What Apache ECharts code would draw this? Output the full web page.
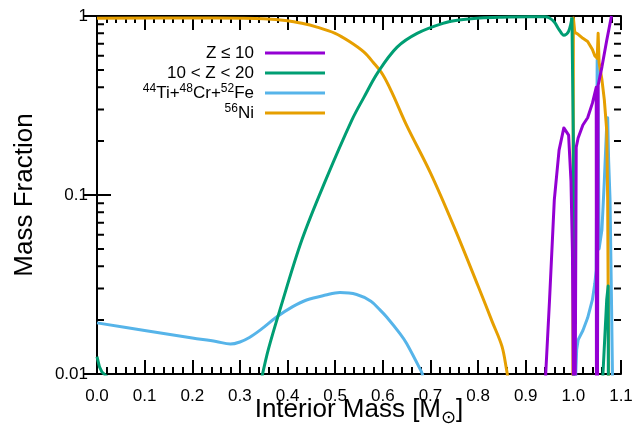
<!DOCTYPE html>
<html lang="en">
<head>
<meta charset="UTF-8">
<title>Mass Fraction</title>
<script src="https://cdn.jsdelivr.net/npm/echarts@6/dist/echarts.min.js"></script>
</head>
<body style="margin:0;background:#fff">
<div id="chart" style="width:644px;height:433px;"></div>
<script>
// BELOW = value under the plotted range (clipped), GAP = break in the line
var BELOW = 1e-4;
var GAP = '-';

var seriesNames = ['Z ≤ 10', '10 < Z < 20', '44Ti+48Cr+52Fe', '56Ni'];

// Z <= 10 (only the spiky outer part is above 0.01)
var purpleX = [0.937, 0.942, 0.95, 0.96, 0.97, 0.98, 0.983, 0.99, 0.995, 0.998, 1.0, 1.001, 1.003, 1.004,
               1.006, 1.01, 1.02, 1.03, 1.04, 1.048, 1.049, 1.051, 1.052, 1.06, 1.07, 1.08];
var purpleY = [BELOW, 0.0101, 0.026, 0.094, 0.178, 0.237, 0.24, 0.216, 0.12, 0.049, 0.0103, BELOW, BELOW, 0.0101,
               0.185, 0.208, 0.246, 0.27, 0.326, 0.40, BELOW, BELOW, 0.41, 0.52, 0.73, 1.0];

// 10 < Z < 20: smooth main curve, then the sharp parts
var greenMainX = [0.3465, 0.36, 0.384, 0.43, 0.48, 0.535, 0.56, 0.59, 0.63, 0.672, 0.726, 0.76, 0.804, 0.85, 0.909,
                  0.94, 0.95, 0.96, 0.97, 0.98, 0.99, 0.997];
var greenMainY = [0.0097, 0.0138, 0.0228, 0.056, 0.121, 0.262, 0.35, 0.486, 0.67, 0.80, 0.91, 0.95, 0.975, 0.985, 0.99,
                  0.99, 0.975, 0.925, 0.84, 0.78, 0.82, 0.98];
var greenEdgeX = [0, 0.005, 0.01, 0.02, 0.03, 0.5, 0.997, 1.0, 1.001, 1.06, 1.062, 1.07, 1.073, 1.075];
var greenEdgeY = [0.0125, 0.011, 0.0103, 0.0097, BELOW, GAP, 0.98, 0.2, BELOW, BELOW, 0.0099, 0.026, 0.031, BELOW];

// 44Ti + 48Cr + 52Fe
var blueMainX = [0, 0.1, 0.2, 0.25, 0.28, 0.3, 0.32, 0.345, 0.377, 0.41, 0.44, 0.48, 0.51, 0.545, 0.575, 0.594, 0.608,
                 0.636, 0.65, 0.681, 0.684];
var blueMainY = [0.0193, 0.0175, 0.0159, 0.0152, 0.0147, 0.0151, 0.016, 0.0178, 0.0208, 0.0237, 0.0259, 0.0276, 0.0285,
                 0.0278, 0.0255, 0.0228, 0.0208, 0.0168, 0.0148, 0.0103, 0.0098];
var blueEdgeX = [1.002, 1.005, 1.007, 1.01, 1.02, 1.03, 1.04, 1.045, 1.048, 1.05, 1.052, 1.054, 1.06, 1.065, 1.07, 1.072,
                 1.074, 1.077, 1.08, 1.082, 1.083];
var blueEdgeY = [BELOW, 0.0101, 0.0137, 0.0155, 0.0175, 0.0206, 0.026, 0.032, 0.038, 0.57, 0.3, 0.05, 0.064, 0.12, 0.246,
                 0.27, 0.157, 0.094, 0.026, 0.0103, BELOW];

// 56Ni
var orangeMainX = [0, 0.2, 0.3, 0.35, 0.4, 0.43, 0.46, 0.5, 0.53, 0.56, 0.58, 0.6, 0.62, 0.65, 0.7, 0.75, 0.8, 0.83,
                   0.85, 0.86, 0.862];
var orangeMainY = [0.97, 0.975, 0.972, 0.965, 0.94, 0.91, 0.87, 0.80, 0.72, 0.63, 0.55, 0.47, 0.37, 0.245, 0.133, 0.066,
                   0.031, 0.0195, 0.0143, 0.0105, 0.0097];
var orangeEdgeX = [0.998, 1.0, 1.003, 1.01, 1.02, 1.03, 1.04, 1.045, 1.05, 1.052, 1.054, 1.06, 1.065, 1.07, 1.072,
                   1.074, 1.075];
var orangeEdgeY = [BELOW, 0.975, 0.81, 0.79, 0.75, 0.72, 0.65, 0.60, 0.58, 0.80, 0.55, 0.44, 0.34, 0.23, 0.094, 0.0099,
                   BELOW];

var colors = ['#9400D3', '#009E73', '#56B4E9', '#E69F00'];

var xMin = 0, xMax = 1.1;
var yMajorTicks = [0.01, 0.1, 1];
var yMinorTicks = [0.02, 0.03, 0.04, 0.05, 0.06, 0.07, 0.08, 0.09, 0.2, 0.3, 0.4, 0.5, 0.6, 0.7, 0.8, 0.9];
var minorTickLen = 0.0147; // in x units, about 7 px

function zip(xs, ys) {
    var out = [];
    for (var i = 0; i < xs.length; i++) out.push([xs[i], ys[i]]);
    return out;
}

// short segments at both frame edges for the minor log ticks
function minorTickData() {
    var out = [];
    yMinorTicks.forEach(function (v) {
        out.push([xMin, v], [xMin + minorTickLen, v], [xMin + minorTickLen, GAP]);
        out.push([xMax - minorTickLen, v], [xMax, v], [xMax, GAP]);
    });
    return out;
}

var FONT = 'Liberation Sans, Arial, sans-serif';
var tickStyle = {color: '#000', width: 2};
var borderLine = {show: true, lineStyle: {color: '#000', width: 2}};
var hidden = {show: false};

function xAxisCfg(pos, showLabels) {
    return {
        type: 'value', position: pos, min: xMin, max: xMax, interval: 0.1,
        axisLine: borderLine, splitLine: {show: false},
        axisTick: {show: true, inside: true, length: 14, lineStyle: tickStyle},
        minorTick: {show: true, splitNumber: 5, length: 7, lineStyle: tickStyle},
        axisLabel: {show: showLabels, formatter: function (v) { return v.toFixed(1); },
                    fontSize: 17, color: '#000', fontFamily: FONT, margin: 14}
    };
}

function yAxisCfg(pos, showLabels) {
    return {
        type: 'log', position: pos, min: 0.01, max: 1, logBase: 10,
        axisLine: borderLine, splitLine: {show: false},
        axisTick: {show: true, inside: true, length: 14, lineStyle: tickStyle, customValues: yMajorTicks},
        axisLabel: {show: showLabels, fontSize: 17, color: '#000', fontFamily: FONT, margin: 9,
                    formatter: function (v) { return String(v); }}
    };
}

// axes that only carry the titles
var xTitleAxis = {
    type: 'value', position: 'bottom', min: xMin, max: xMax,
    axisLine: hidden, axisTick: hidden, axisLabel: hidden, splitLine: hidden,
    name: '{n|Interior Mass [M}{sub|⊙}{n|]}', nameLocation: 'middle', nameGap: 19,
    nameTextStyle: {
        fontFamily: FONT, color: '#000',
        rich: {
            n: {fontSize: 26, fontFamily: FONT, color: '#000', lineHeight: 34},
            sub: {fontSize: 18, fontFamily: 'DejaVu Sans', color: '#000', verticalAlign: 'bottom', lineHeight: 12}
        }
    }
};
var yTitleAxis = {
    type: 'log', position: 'left', min: 0.01, max: 1,
    axisLine: hidden, axisTick: hidden, axisLabel: hidden, splitLine: hidden,
    name: 'Mass Fraction', nameLocation: 'middle', nameGap: 59,
    nameTextStyle: {fontSize: 26, fontFamily: FONT, color: '#000'}
};

var chart = echarts.init(document.getElementById('chart'));

var parts = [
    // [colour index, xs, ys, smooth]
    [2, blueMainX, blueMainY, 0.35], [2, blueEdgeX, blueEdgeY, 0],
    [3, orangeMainX, orangeMainY, 0.35], [3, orangeEdgeX, orangeEdgeY, 0],
    [1, greenMainX, greenMainY, 0.35], [1, greenEdgeX, greenEdgeY, 0],
    [0, purpleX, purpleY, 0]
];
var series = parts.map(function (p) {
    var i = p[0];
    return {
        name: seriesNames[i], type: 'line', xAxisIndex: 0, yAxisIndex: 0,
        data: zip(p[1], p[2]), showSymbol: false, symbol: 'none', clip: true,
        smooth: p[3], connectNulls: false,
        lineStyle: {color: colors[i], width: 3, join: 'round'},
        itemStyle: {color: colors[i]}
    };
});

series.push({
    name: 'minorTicks', type: 'line', xAxisIndex: 0, yAxisIndex: 0,
    data: minorTickData(), showSymbol: false, symbol: 'none', connectNulls: false,
    silent: true, z: 5, clip: false,
    lineStyle: {color: '#000', width: 2, cap: 'butt'}
});

chart.setOption({
    animation: false,
    backgroundColor: '#fff',
    grid: {left: 97, right: 23, top: 16, bottom: 59},
    legend: {
        data: seriesNames, orient: 'vertical', align: 'right',
        right: 319, top: 43, padding: 0, itemGap: 0,
        icon: 'rect', itemWidth: 60, itemHeight: 3, selectedMode: false,
        formatter: function (name) {
            if (name === '44Ti+48Cr+52Fe') return '{sup|44}Ti+{sup|48}Cr+{sup|52}Fe';
            if (name === '56Ni') return '{sup|56}Ni';
            return name;
        },
        textStyle: {
            fontSize: 17, fontFamily: FONT, color: '#000', lineHeight: 20, padding: [0, 6, 0, 0],
            rich: {
                sup: {fontSize: 12, fontFamily: FONT, color: '#000', verticalAlign: 'top', lineHeight: 10}
            }
        }
    },
    xAxis: [xAxisCfg('bottom', true), xAxisCfg('top', false), xTitleAxis],
    yAxis: [yAxisCfg('left', true), yAxisCfg('right', false), yTitleAxis],
    series: series
});
</script>
</body>
</html>
